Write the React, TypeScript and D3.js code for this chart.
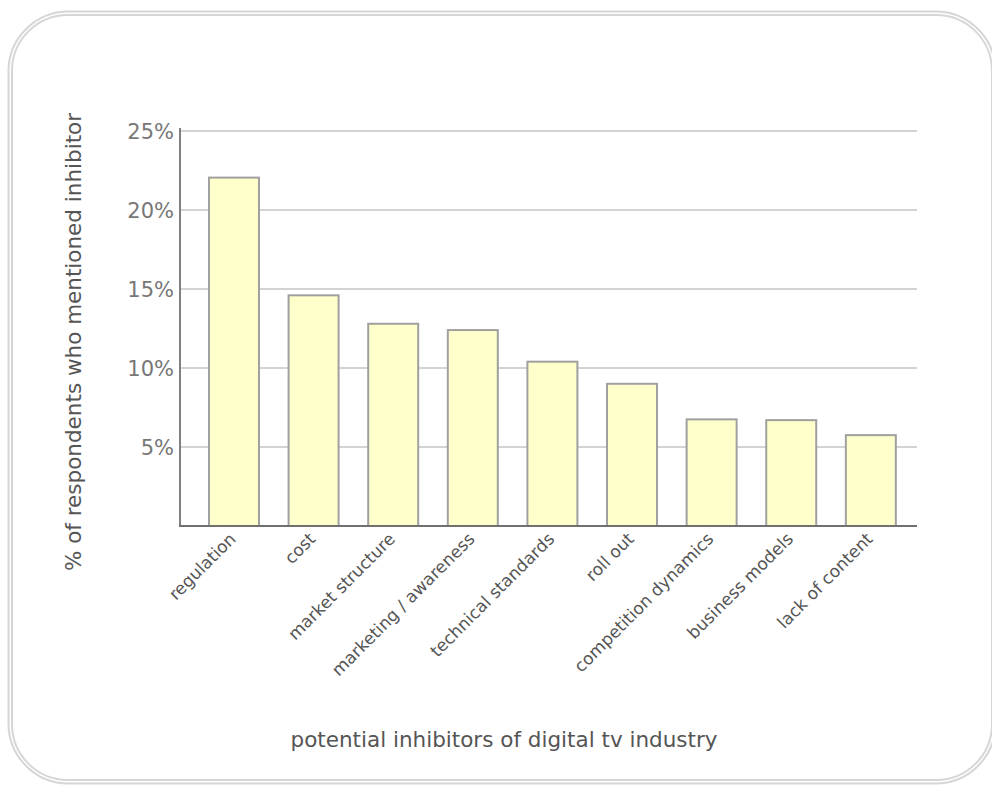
import React from "react";
import * as d3 from "d3";

const categories = [
  "regulation",
  "cost",
  "market structure",
  "marketing / awareness",
  "technical standards",
  "roll out",
  "competition dynamics",
  "business models",
  "lack of content",
];
const values = [22.05, 14.6, 12.8, 12.4, 10.4, 9.0, 6.75, 6.7, 5.75];
const yTicks = [5, 10, 15, 20, 25];
const yTitle = "% of respondents who mentioned inhibitor";
const xTitle = "potential inhibitors of digital tv industry";

const W = 992;
const H = 785;
const FONT = "Verdana, 'DejaVu Sans', sans-serif";

export default function App() {
  const x = d3
    .scaleBand<string>()
    .domain(categories)
    .range([180, 917])
    .paddingInner(0.372)
    .paddingOuter(0.315)
    .align(0.578);
  const y = d3.scaleLinear().domain([0, 25]).range([526, 131]);

  return (
    <svg
      width={W}
      height={H}
      style={{ position: "absolute", left: 0, top: 0, background: "#fff" }}
      fontFamily={FONT}
    >
      <rect x={8.5} y={11.5} width={987} height={772} rx={60} ry={60} fill="none" stroke="#d6d6d6" strokeWidth={2} />
      <rect x={12} y={15} width={980} height={765} rx={56} ry={56} fill="none" stroke="#d6d6d6" strokeWidth={2} />

      {yTicks.map((t) => (
        <g key={t}>
          <line x1={180} x2={917} y1={y(t)} y2={y(t)} stroke="#d3d3d3" strokeWidth={2} />
          <text x={174} y={y(t)} dy="0.36em" textAnchor="end" fontSize={21} fill="#777">
            {t}%
          </text>
        </g>
      ))}

      {categories.map((c, i) => (
        <rect
          key={c}
          x={x(c)!}
          y={y(values[i])}
          width={x.bandwidth()}
          height={y(0) - y(values[i])}
          fill="#ffffcc"
          stroke="#a0a0a0"
          strokeWidth={2}
        />
      ))}

      <line x1={180} x2={180} y1={128} y2={527} stroke="#808080" strokeWidth={2} />
      <line x1={179} x2={917} y1={526} y2={526} stroke="#707070" strokeWidth={2} />

      {categories.map((c) => {
        const cx = x(c)! + x.bandwidth() / 2;
        return (
          <text
            key={c}
            transform={`translate(${cx + 3},${540}) rotate(-45)`}
            textAnchor="end"
            fontSize={17}
            fill="#555"
          >
            {c}
          </text>
        );
      })}

      <text
        transform={`translate(81,${342}) rotate(-90)`}
        textAnchor="middle"
        fontSize={21.5}
        fill="#555"
      >
        {yTitle}
      </text>
      <text x={504} y={747} textAnchor="middle" fontSize={21.5} fill="#555">
        {xTitle}
      </text>
    </svg>
  );
}
